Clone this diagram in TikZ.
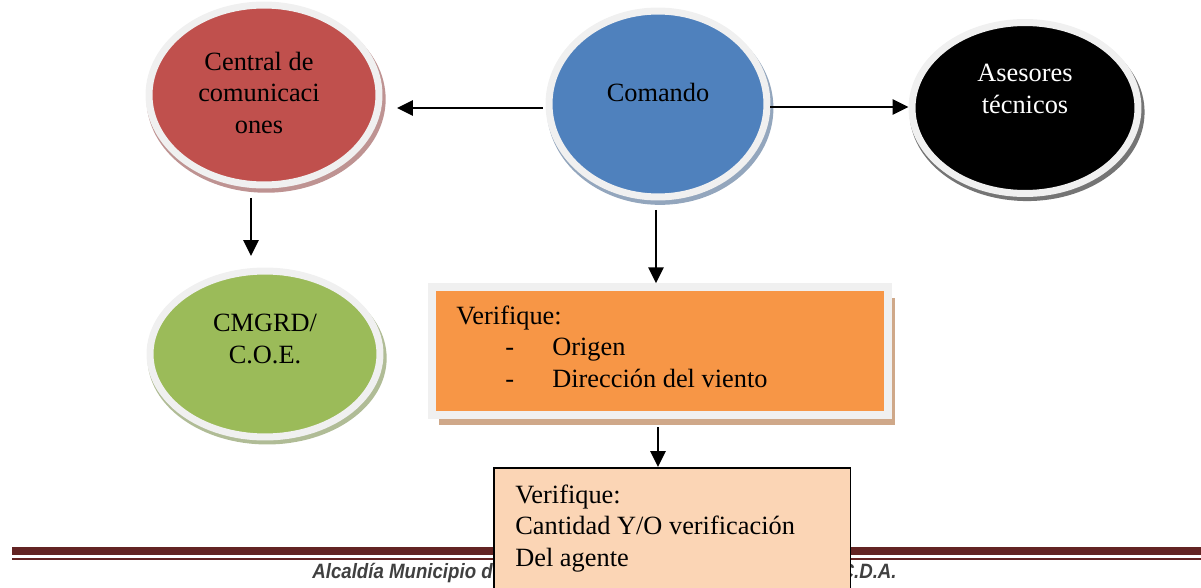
\documentclass[tikz,border=0pt]{standalone}
\usepackage{fontspec}
\usepackage{graphicx}
\setmainfont{Liberation Serif}
\newfontfamily\footfont{Liberation Sans}
\usetikzlibrary{arrows.meta, positioning, shapes.geometric, shadows}
\definecolor{redfill}{RGB}{192,80,77}
\definecolor{bluefill}{RGB}{79,129,189}
\definecolor{greenfill}{RGB}{155,187,89}
\definecolor{orangefill}{RGB}{247,150,70}
\definecolor{peachfill}{RGB}{251,213,181}
\definecolor{ringgray}{RGB}{240,240,240}
\definecolor{tanshadow}{RGB}{207,168,137}
\definecolor{footred}{RGB}{99,36,35}
\definecolor{footgray}{RGB}{64,64,64}

\begin{document}
\begin{tikzpicture}[x=0.02cm, y=-0.02cm,
  bubble/.style={ellipse, fill=#1, draw=ringgray, line width=0.14cm, inner sep=0pt,
    drop shadow={shadow xshift=0.04cm, shadow yshift=-0.08cm, shadow scale=1.04, fill=#1!55!gray, opacity=0.7}},
  txt/.style={font=\fontsize{15}{17.8}\selectfont, inner sep=0pt, align=center},
  arr/.style={-{Triangle[length=0.32cm, width=0.3cm]}, line width=0.055cm}]
  \useasboundingbox (0,0) rectangle (1201,588);

  % footer
  \fill[footred] (12,547) rectangle (1201,555);
  \fill[footred] (12,558) rectangle (1201,560);
  \node[anchor=base west, inner sep=0pt, text=footgray] (alcaldia) at (312,578)
    {\scalebox{0.9}[1]{\footfont\bfseries\itshape\fontsize{11.8}{14}\selectfont Alcaldía Municipio de}};
  \node[anchor=base east, inner sep=0pt, text=footgray] (cda) at (897,578)
    {\scalebox{0.9}[1]{\footfont\bfseries\itshape\fontsize{11.8}{14}\selectfont C.D.A.}};

  % Ellipses
  \node[bubble=redfill, minimum width=4.6cm, minimum height=3.6cm] (central) at (264,95) {};
  \node[bubble=bluefill, minimum width=4.36cm, minimum height=3.72cm] (comando) at (658,104) {};
  \node[bubble=black, minimum width=4.52cm, minimum height=3.42cm] (asesores) at (1025,108) {};
  \node[bubble=greenfill, minimum width=4.6cm, minimum height=3.32cm] (cmgrd) at (265,354) {};

  % Boxes
  \node[draw=ringgray, fill=orangefill, line width=0.16cm, minimum width=9.12cm, minimum height=2.55cm,
    drop shadow={shadow xshift=0.14cm, shadow yshift=-0.21cm, fill=tanshadow, opacity=1}] (origen) at (660,351) {};
  \node[draw=black, fill=peachfill, line width=0.03cm, minimum width=7.14cm, minimum height=2.6cm,
    anchor=north west] (agente) at (493,467) {};

  % Arrows
  \draw[arr, shorten <=0.05cm, shorten >=0.29cm] ([yshift=-0.08cm]comando.west) -- ([yshift=-0.08cm]comando.west -| central.east);
  \draw[arr] ([yshift=-0.06cm]comando.east) -- ([yshift=-0.06cm]comando.east -| asesores.west);
  \draw[arr, shorten <=0.19cm, shorten >=0.23cm] ([xshift=-0.26cm]central.south) -- ([xshift=-0.26cm]central.south |- cmgrd.north);
  \draw[arr, shorten <=0.19cm] ([xshift=-0.04cm]comando.south) -- ([xshift=-0.04cm]comando.south |- origen.north);
  \draw[arr, shorten <=0.17cm] ([xshift=-0.04cm]origen.south) -- ([xshift=-0.04cm]origen.south |- agente.north);

  % Texts (base = last line)
  \node[txt, anchor=base] (central-txt) at (259,133) {Central de\\comunicaci\\ones};
  \node[txt, anchor=base] (comando-txt) at (658,102) {Comando};
  \node[txt, anchor=base, text=white] (asesores-txt) at (1025,113) {Asesores\\técnicos};
  \node[txt, anchor=base] (cmgrd-txt) at (265,363) {CMGRD/\\C.O.E.};
  \node[txt, align=left, anchor=base west] (origen-txt) at (456,387)
    {Verifique:\\\makebox[1.92cm][l]{\hspace{0.98cm}-}Origen\\\makebox[1.92cm][l]{\hspace{0.98cm}-}Dirección del viento};
  \node[txt, align=left, anchor=base west] (agente-txt) at (515,566)
    {Verifique:\\Cantidad Y/O verificación\\Del agente};
\end{tikzpicture}
\end{document}
